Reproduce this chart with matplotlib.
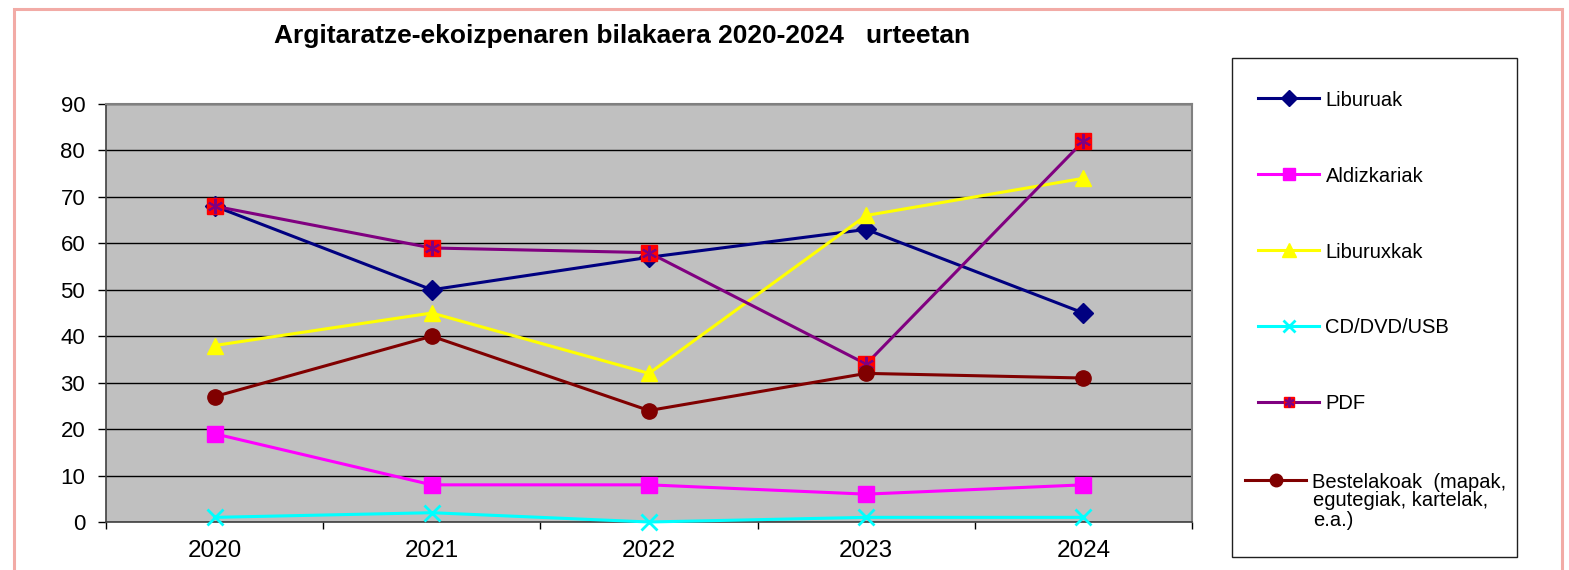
import matplotlib.pyplot as plt
from matplotlib.lines import Line2D
from matplotlib.patches import Rectangle

plt.rcParams["font.family"] = ["Liberation Sans", "DejaVu Sans"]

TITLE = "Argitaratze-ekoizpenaren bilakaera 2020-2024   urteetan"
YEARS = ["2020", "2021", "2022", "2023", "2024"]

liburuak = [68, 50, 57, 63, 45]
aldizkariak = [19, 8, 8, 6, 8]
liburuxkak = [38, 45, 32, 66, 74]
cd_dvd_usb = [1, 2, 0, 1, 1]
pdf = [68, 59, 58, 34, 82]
bestelakoak = [27, 40, 24, 32, 31]

W, H = 1569, 570


def fx(px):
    return px / W


def fy(py):
    return (H - py) / H


fig = plt.figure(figsize=(W / 100, H / 100), dpi=100)
fig.patch.set_facecolor("white")

# pinkish outer frame
fig.patches.append(Rectangle((fx(14), fy(600)), fx(1562) - fx(14), fy(9) - fy(600),
                             transform=fig.transFigure, fill=False,
                             edgecolor="#F2ABA6", linewidth=2.2, clip_on=False))

ax = fig.add_axes([fx(106), fy(522), fx(1192) - fx(106), fy(104) - fy(522)])
ax.set_facecolor("#C0C0C0")
x = list(range(len(YEARS)))
lw = 2.2

ax.plot(x, liburuak, color="#000080", lw=lw, marker="D", ms=10,
        label="Liburuak", zorder=3)
ax.plot(x, aldizkariak, color="#FF00FF", lw=lw, marker="s", ms=11,
        label="Aldizkariak", zorder=3)
ax.plot(x, liburuxkak, color="#FFFF00", lw=lw, marker="^", ms=12,
        label="Liburuxkak", zorder=3)
ax.plot(x, cd_dvd_usb, color="#00FFFF", lw=lw, marker="x", ms=11, mew=2,
        label="CD/DVD/USB", zorder=3, clip_on=False)
ax.plot(x, pdf, color="#800080", lw=lw, marker="s", ms=11, mfc="#FF0000",
        mec="#FF0000", zorder=3)
ax.plot(x, pdf, ls="none", marker=(6, 2, 0), ms=11, mec="#800080", mew=1.5,
        zorder=3)
ax.plot(x, bestelakoak, color="#800000", lw=lw, marker="o", ms=11, zorder=3)

ax.set_xlim(-0.5, len(YEARS) - 0.5)
ax.set_ylim(0, 90)
ax.set_yticks(range(0, 91, 10))
ax.tick_params(axis="y", labelsize=16, length=6, width=1, pad=9)
ax.set_xticks(x)
ax.set_xticklabels(YEARS)
ax.set_xticks([i - 0.5 for i in range(len(YEARS) + 1)], minor=True)
ax.tick_params(axis="x", which="major", length=0, labelsize=17.5, pad=13)
ax.tick_params(axis="x", which="minor", length=5, width=1)
ax.grid(axis="y", color="black", lw=1, zorder=1)
ax.set_axisbelow(True)
for side in ["top", "right"]:
    ax.spines[side].set_color("#808080")
    ax.spines[side].set_linewidth(1.5)
for side in ["left", "bottom"]:
    ax.spines[side].set_color("#404040")
    ax.spines[side].set_linewidth(1.2)

fig.text(fx(622), fy(36), TITLE, ha="center", va="center",
         fontsize=19, fontweight="bold")

# legend
fig.patches.append(Rectangle((fx(1232), fy(557)), fx(1517) - fx(1232), fy(58) - fy(557),
                             transform=fig.transFigure, fill=False,
                             edgecolor="#202020", linewidth=1))

handles, labels = ax.get_legend_handles_labels()
pdf_handle = (Line2D([], [], color="#800080", lw=lw, marker="s", ms=9,
                     mfc="#FF0000", mec="#FF0000"),
              Line2D([], [], ls="none", marker=(6, 2, 0), ms=9,
                     mec="#800080", mew=1.5))
handles.append(pdf_handle)
labels.append("PDF")
leg1 = fig.legend(handles, labels, loc="center left",
                  bbox_to_anchor=(fx(1258), fy(252)), frameon=False,
                  fontsize=14.5, labelspacing=2.83, handlelength=3.05,
                  handletextpad=0.3, borderpad=0, borderaxespad=0,
                  markerscale=0.8)

best_handle = Line2D([], [], color="#800000", lw=lw, marker="o", ms=9)
leg2 = fig.legend([best_handle], ["Bestelakoak  (mapak,"], loc="center left",
                  bbox_to_anchor=(fx(1245), fy(482)), frameon=False,
                  fontsize=14.5, handlelength=3.05, handletextpad=0.3,
                  borderpad=0, borderaxespad=0)
fig.text(fx(1313), fy(506), "egutegiak, kartelak,", ha="left", va="baseline",
         fontsize=14.5)
fig.text(fx(1313), fy(526), "e.a.)", ha="left", va="baseline", fontsize=14.5)

fig.savefig("out.png", dpi=100)
